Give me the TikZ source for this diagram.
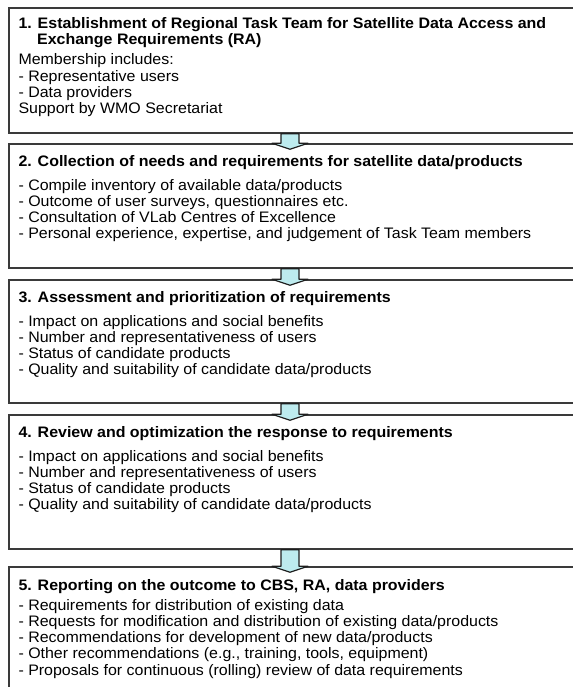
\documentclass[tikz,border=0pt]{standalone}
\usepackage{fontspec}
\setmainfont{Liberation Sans}[FakeStretch=1.05]
\usetikzlibrary{calc, fit}
\definecolor{box-border}{HTML}{3A3A3A}
\definecolor{arrow-fill}{HTML}{BDEBEE}
\definecolor{arrow-border}{HTML}{1E1E1E}
\tikzset{
  stepbox/.style={
    draw=box-border, line width=1.1pt, rectangle, inner sep=0pt
  },
  steptext/.style={
    anchor=north west, inner sep=0pt, align=left,
    font=\fontsize{11.4}{12.2}\selectfont
  },
  flowarrow/.style={draw=arrow-border, fill=arrow-fill, line width=0.9pt, line join=round}
}

\begin{document}
\begin{tikzpicture}[x=0.75pt, y=-0.75pt]

  \useasboundingbox (0,0) rectangle (573,687);
  \clip (0,0) rectangle (573,687);

  % ---- Step boxes (right edge runs off the page) ----------------------------
  \node[stepbox, fit={(9,8) (592,133)}]   (b1) {};
  \node[stepbox, fit={(9,144) (592,268)}] (b2) {};
  \node[stepbox, fit={(9,280) (592,403)}] (b3) {};
  \node[stepbox, fit={(9,415) (592,549)}] (b4) {};
  \node[stepbox, fit={(9,567) (592,700)}] (b5) {};

  \coordinate (spine) at (290,0);

  % ---- Step 1 ---------------------------------------------------------------
  \node[steptext] (t1) at ($(b1.north west)+(10,10)$) {%
    \textbf{1. Establishment of Regional Task Team for Satellite Data Access and}\\
    \hspace*{14pt}\textbf{Exchange Requirements (RA)}\\[2.8pt]
    Membership includes:\\
    - Representative users\\
    - Data providers\\
    Support by WMO Secretariat};

  % ---- Step 2 ---------------------------------------------------------------
  \node[steptext] (t2) at ($(b2.north west)+(10,12)$) {%
    \textbf{2. Collection of needs and requirements for satellite data/products}\\[5.5pt]
    - Compile inventory of available data/products\\
    - Outcome of user surveys, questionnaires etc.\\
    - Consultation of VLab Centres of Excellence\\
    - Personal experience, expertise, and judgement of Task Team members};

  % ---- Step 3 ---------------------------------------------------------------
  \node[steptext] (t3) at ($(b3.north west)+(10,12)$) {%
    \textbf{3. Assessment and prioritization of requirements}\\[5.5pt]
    - Impact on applications and social benefits\\
    - Number and representativeness of users\\
    - Status of candidate products\\
    - Quality and suitability of candidate data/products};

  % ---- Step 4 ---------------------------------------------------------------
  \node[steptext] (t4) at ($(b4.north west)+(10,12)$) {%
    \textbf{4. Review and optimization the response to requirements}\\[5.5pt]
    - Impact on applications and social benefits\\
    - Number and representativeness of users\\
    - Status of candidate products\\
    - Quality and suitability of candidate data/products};

  % ---- Step 5 ---------------------------------------------------------------
  \node[steptext] (t5) at ($(b5.north west)+(10,13)$) {%
    \textbf{5. Reporting on the outcome to CBS, RA, data providers}\\[2.5pt]
    - Requirements for distribution of existing data\\
    - Requests for modification and distribution of existing data/products\\
    - Recommendations for development of new data/products\\
    - Other recommendations (e.g., training, tools, equipment)\\
    - Proposals for continuous (rolling) review of data requirements};

  % ---- Block arrows between steps -------------------------------------------
  \foreach \from/\to in {b1/b2, b2/b3, b3/b4, b4/b5} {
    \coordinate (top) at (\from.south -| spine);
    \coordinate (tip) at ($(\to.north -| spine)+(0,6)$);
    \draw[flowarrow] ($(top)+(-9,0)$) |- ($(tip)+(-18,-6)$) -- (tip)
      -- ($(tip)+(18,-6)$) -| ($(top)+(9,0)$) -- cycle;
  }

\end{tikzpicture}
\end{document}
